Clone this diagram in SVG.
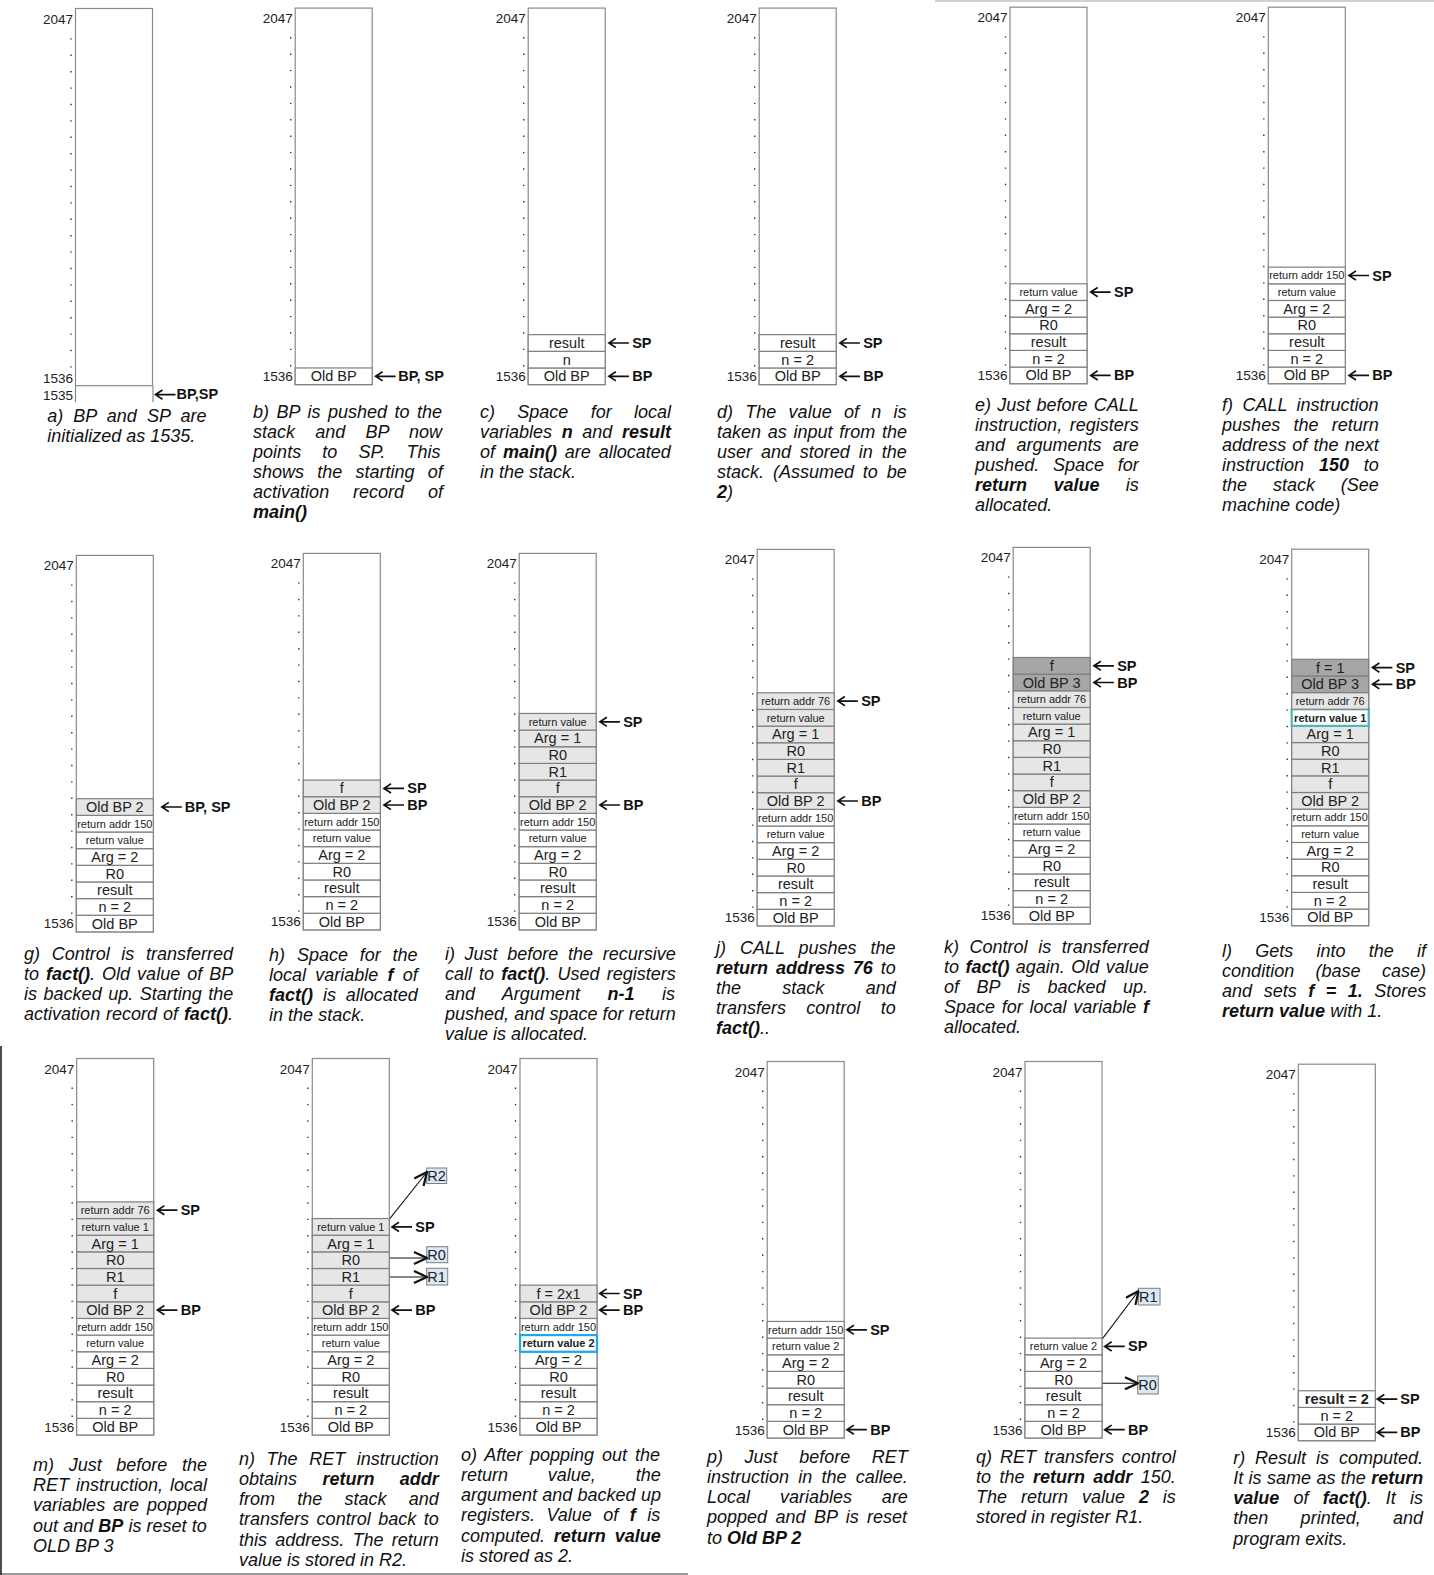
<svg xmlns="http://www.w3.org/2000/svg" xmlns:xlink="http://www.w3.org/1999/xlink" width="1434" height="1575" viewBox="0 0 1434 1575">
<style>
.stk{fill:#fff;stroke:#8a8a8a;stroke-width:1.2}
.c{fill:#fff;stroke:#7f7f7f;stroke-width:1.2}
.g1{fill:#e6e6e6}
.g2{fill:#a6a6a6}
.teal{stroke:#4cb8b8;stroke-width:2.2}
.blue{stroke:#1aaae6;stroke-width:2.2}
text{font-family:"Liberation Sans",Arial,Helvetica,sans-serif}
.v{font-size:14.5px;text-anchor:middle;fill:#222}
.s{font-size:11px;text-anchor:middle;fill:#222}
.b{font-weight:bold}
.num{font-size:13.5px;text-anchor:end;fill:#222}
.pl{font-size:14.5px;font-weight:bold;fill:#111}
.cap{font-size:18px;font-style:italic;fill:#111}
.dots{stroke:#333;stroke-width:1.4;stroke-dasharray:1.4 15}
.pa{fill:none;stroke:#111;stroke-width:1.7}
.rb{fill:#dae7f4;stroke:#7f7f7f;stroke-width:1}
.rt{font-size:14.5px;fill:#222}
.rl{fill:none;stroke:#111;stroke-width:1.1}
</style>
<defs>
<g id="ptr"><path class="pa" d="M1,0 H21 M8,-4.6 L1,0 L8,4.6"/></g>
<marker id="oa" viewBox="0 0 15 14" refX="14" refY="7" markerWidth="15" markerHeight="14" markerUnits="userSpaceOnUse" orient="auto"><path d="M1,1 L14,7 L1,13" fill="none" stroke="#111" stroke-width="2.2"/></marker>
<g id="frame">
<rect class="stk" x="0" y="-376.5" width="77" height="376.5"/>
<line class="dots" x1="-4.5" y1="-347.5" x2="-4.5" y2="-18"/>
<text class="num" x="-2.5" y="-361.5">2047</text>
<text class="num" x="-2.5" y="-3.5">1536</text>
</g>
</defs>

<!-- border lines -->
<line x1="935" y1="1" x2="1434" y2="1" stroke="#d0d0d0" stroke-width="2"/>
<line x1="1" y1="1046" x2="1" y2="1575" stroke="#111" stroke-width="1.5"/>
<line x1="0" y1="1574" x2="688" y2="1574" stroke="#333" stroke-width="1.2"/>

<!-- Panel a -->
<g id="panel-a">
<g transform="translate(75.5,385.7)">
<rect class="stk" x="0" y="-377.2" width="77" height="377.2"/>
<line class="dots" x1="-4.5" y1="-347.5" x2="-4.5" y2="-18"/>
<text class="num" x="-2.5" y="-362">2047</text>
<text class="num" x="-2.5" y="-2.5">1536</text>
<text class="num" x="-2.5" y="14.8">1535</text>
<path d="M0,0 V16.5 M77.5,0 V16.5" stroke="#8a8a8a" stroke-width="1.2" fill="none"/>
<text class="pl" x="101" y="13.5">BP,SP</text>
</g>
<text class="cap" x="47.2" y="421.8" style="word-spacing:5.15px">a) BP and SP are</text>
<text class="cap" x="47.2" y="441.9">initialized as 1535.</text>
</g>

<!-- Panel b -->
<g id="panel-b">
<g transform="translate(295.2,384.6)">
<use href="#frame"/>
<rect class="c" x="0" y="-16.65" width="77" height="16.65"/><text class="v" x="38.5" y="-3.3">Old BP</text>
<text class="pl" x="103" y="-3.3">BP, SP</text>
</g>
<text class="cap" x="253.1" y="417.7" style="word-spacing:2.5px">b) BP is pushed to the</text>
<text class="cap" x="253.1" y="437.8" style="word-spacing:15.2px">stack and BP now</text>
<text class="cap" x="253.1" y="457.9" style="word-spacing:16.2px">points to SP. This</text>
<text class="cap" x="253.1" y="478" style="word-spacing:8.2px">shows the starting of</text>
<text class="cap" x="253.1" y="498.1" style="word-spacing:18.9px">activation record of</text>
<text class="cap b" x="253.1" y="518.2">main()</text>
</g>

<!-- Panel c -->
<g id="panel-c">
<g transform="translate(528.2,384.6)">
<use href="#frame"/>
<rect class="c" x="0" y="-16.65" width="77" height="16.65"/><text class="v" x="38.5" y="-3.3">Old BP</text>
<rect class="c" x="0" y="-33.3" width="77" height="16.65"/><text class="v" x="38.5" y="-19.95">n</text>
<rect class="c" x="0" y="-49.95" width="77" height="16.65"/><text class="v" x="38.5" y="-36.6">result</text>
<text class="pl" x="104" y="-36.6">SP</text>
<text class="pl" x="104" y="-3.3">BP</text>
</g>
<text class="cap" x="480" y="417.7" style="word-spacing:17.3px">c) Space for local</text>
<text class="cap" x="480" y="437.8" style="word-spacing:4.6px">variables <tspan class="b">n</tspan> and <tspan class="b">result</tspan></text>
<text class="cap" x="480" y="457.9" style="word-spacing:2.9px">of <tspan class="b">main()</tspan> are allocated</text>
<text class="cap" x="480" y="478">in the stack.</text>
</g>

<!-- Panel d -->
<g id="panel-d">
<g transform="translate(759.2,384.6)">
<use href="#frame"/>
<rect class="c" x="0" y="-16.65" width="77" height="16.65"/><text class="v" x="38.5" y="-3.3">Old BP</text>
<rect class="c" x="0" y="-33.3" width="77" height="16.65"/><text class="v" x="38.5" y="-19.95">n = 2</text>
<rect class="c" x="0" y="-49.95" width="77" height="16.65"/><text class="v" x="38.5" y="-36.6">result</text>
<text class="pl" x="104" y="-36.6">SP</text>
<text class="pl" x="104" y="-3.3">BP</text>
</g>
<text class="cap" x="717" y="417.7" style="word-spacing:7.3px">d) The value of n is</text>
<text class="cap" x="717" y="437.8" style="word-spacing:1.7px">taken as input from the</text>
<text class="cap" x="717" y="457.9" style="word-spacing:3.9px">user and stored in the</text>
<text class="cap" x="717" y="478" style="word-spacing:3.9px">stack. (Assumed to be</text>
<text class="cap" x="717" y="498.1"><tspan class="b">2</tspan>)</text>
</g>

<!-- Panel e -->
<g id="panel-e">
<g transform="translate(1010,383.7)">
<use href="#frame"/>
<rect class="c" x="0" y="-16.65" width="77" height="16.65"/><text class="v" x="38.5" y="-3.3">Old BP</text>
<rect class="c" x="0" y="-33.3" width="77" height="16.65"/><text class="v" x="38.5" y="-19.95">n = 2</text>
<rect class="c" x="0" y="-49.95" width="77" height="16.65"/><text class="v" x="38.5" y="-36.6">result</text>
<rect class="c" x="0" y="-66.6" width="77" height="16.65"/><text class="v" x="38.5" y="-53.25">R0</text>
<rect class="c" x="0" y="-83.25" width="77" height="16.65"/><text class="v" x="38.5" y="-69.9">Arg = 2</text>
<rect class="c" x="0" y="-99.9" width="77" height="16.65"/><text class="s" x="38.5" y="-87.6">return value</text>
<text class="pl" x="104" y="-86.6">SP</text>
<text class="pl" x="104" y="-3.3">BP</text>
</g>
<text class="cap" x="975.1" y="410.7" style="word-spacing:1.2px">e) Just before CALL</text>
<text class="cap" x="975.1" y="430.8" style="word-spacing:2.7px">instruction, registers</text>
<text class="cap" x="975.1" y="450.9" style="word-spacing:6.3px">and arguments are</text>
<text class="cap" x="975.1" y="471" style="word-spacing:8.8px">pushed. Space for</text>
<text class="cap" x="975.1" y="491.1" style="word-spacing:21.3px"><tspan class="b">return value</tspan> is</text>
<text class="cap" x="975.1" y="511.2">allocated.</text>
</g>

<!-- Panel f -->
<g id="panel-f">
<g transform="translate(1268.3,383.7)">
<use href="#frame"/>
<rect class="c" x="0" y="-16.65" width="77" height="16.65"/><text class="v" x="38.5" y="-3.3">Old BP</text>
<rect class="c" x="0" y="-33.3" width="77" height="16.65"/><text class="v" x="38.5" y="-19.95">n = 2</text>
<rect class="c" x="0" y="-49.95" width="77" height="16.65"/><text class="v" x="38.5" y="-36.6">result</text>
<rect class="c" x="0" y="-66.6" width="77" height="16.65"/><text class="v" x="38.5" y="-53.25">R0</text>
<rect class="c" x="0" y="-83.25" width="77" height="16.65"/><text class="v" x="38.5" y="-69.9">Arg = 2</text>
<rect class="c" x="0" y="-99.9" width="77" height="16.65"/><text class="s" x="38.5" y="-87.6">return value</text>
<rect class="c" x="0" y="-116.55" width="77" height="16.65"/><text class="s" x="38.5" y="-104.25">return addr 150</text>
<text class="pl" x="104" y="-103.2">SP</text>
<text class="pl" x="104" y="-3.3">BP</text>
</g>
<text class="cap" x="1222.1" y="410.7" style="word-spacing:4.3px">f) CALL instruction</text>
<text class="cap" x="1222.1" y="430.8" style="word-spacing:8.3px">pushes the return</text>
<text class="cap" x="1222.1" y="450.9" style="word-spacing:1.2px">address of the next</text>
<text class="cap" x="1222.1" y="471" style="word-spacing:9.8px">instruction <tspan class="b">150</tspan> to</text>
<text class="cap" x="1222.1" y="491.1" style="word-spacing:20.8px">the stack (See</text>
<text class="cap" x="1222.1" y="511.2">machine code)</text>
</g>

<!-- Panel g -->
<g id="panel-g">
<g transform="translate(76.3,931.9)">
<use href="#frame"/>
<rect class="c" x="0" y="-16.65" width="77" height="16.65"/><text class="v" x="38.5" y="-3.3">Old BP</text>
<rect class="c" x="0" y="-33.3" width="77" height="16.65"/><text class="v" x="38.5" y="-19.95">n = 2</text>
<rect class="c" x="0" y="-49.95" width="77" height="16.65"/><text class="v" x="38.5" y="-36.6">result</text>
<rect class="c" x="0" y="-66.6" width="77" height="16.65"/><text class="v" x="38.5" y="-53.25">R0</text>
<rect class="c" x="0" y="-83.25" width="77" height="16.65"/><text class="v" x="38.5" y="-69.9">Arg = 2</text>
<rect class="c" x="0" y="-99.9" width="77" height="16.65"/><text class="s" x="38.5" y="-87.6">return value</text>
<rect class="c" x="0" y="-116.55" width="77" height="16.65"/><text class="s" x="38.5" y="-104.25">return addr 150</text>
<rect class="c g1" x="0" y="-133.2" width="77" height="16.65"/><text class="v" x="38.5" y="-119.85">Old BP 2</text>
<text class="pl" x="108.5" y="-119.9">BP, SP</text>
</g>
<text class="cap" x="24.1" y="960" style="word-spacing:6.6px">g) Control is transferred</text>
<text class="cap" x="24.1" y="980.1" style="word-spacing:2px">to <tspan class="b">fact()</tspan>. Old value of BP</text>
<text class="cap" x="24.1" y="1000.2" style="word-spacing:1.5px">is backed up. Starting the</text>
<text class="cap" x="24.1" y="1020.3" style="word-spacing:0.9px">activation record of <tspan class="b">fact()</tspan>.</text>
</g>

<!-- Panel h -->
<g id="panel-h">
<g transform="translate(303.3,929.9)">
<use href="#frame"/>
<rect class="c" x="0" y="-16.65" width="77" height="16.65"/><text class="v" x="38.5" y="-3.3">Old BP</text>
<rect class="c" x="0" y="-33.3" width="77" height="16.65"/><text class="v" x="38.5" y="-19.95">n = 2</text>
<rect class="c" x="0" y="-49.95" width="77" height="16.65"/><text class="v" x="38.5" y="-36.6">result</text>
<rect class="c" x="0" y="-66.6" width="77" height="16.65"/><text class="v" x="38.5" y="-53.25">R0</text>
<rect class="c" x="0" y="-83.25" width="77" height="16.65"/><text class="v" x="38.5" y="-69.9">Arg = 2</text>
<rect class="c" x="0" y="-99.9" width="77" height="16.65"/><text class="s" x="38.5" y="-87.6">return value</text>
<rect class="c" x="0" y="-116.55" width="77" height="16.65"/><text class="s" x="38.5" y="-104.25">return addr 150</text>
<rect class="c g1" x="0" y="-133.2" width="77" height="16.65"/><text class="v" x="38.5" y="-119.85">Old BP 2</text>
<rect class="c g1" x="0" y="-149.85" width="77" height="16.65"/><text class="v" x="38.5" y="-136.5">f</text>
<text class="pl" x="104" y="-136.5">SP</text>
<text class="pl" x="104" y="-119.9">BP</text>
</g>
<text class="cap" x="269.1" y="961" style="word-spacing:6.8px">h) Space for the</text>
<text class="cap" x="269.1" y="981.1" style="word-spacing:4.2px">local variable <tspan class="b">f</tspan> of</text>
<text class="cap" x="269.1" y="1001.2" style="word-spacing:4.8px"><tspan class="b">fact()</tspan> is allocated</text>
<text class="cap" x="269.1" y="1021.3">in the stack.</text>
</g>

<!-- Panel i -->
<g id="panel-i">
<g transform="translate(519.2,929.9)">
<use href="#frame"/>
<rect class="c" x="0" y="-16.65" width="77" height="16.65"/><text class="v" x="38.5" y="-3.3">Old BP</text>
<rect class="c" x="0" y="-33.3" width="77" height="16.65"/><text class="v" x="38.5" y="-19.95">n = 2</text>
<rect class="c" x="0" y="-49.95" width="77" height="16.65"/><text class="v" x="38.5" y="-36.6">result</text>
<rect class="c" x="0" y="-66.6" width="77" height="16.65"/><text class="v" x="38.5" y="-53.25">R0</text>
<rect class="c" x="0" y="-83.25" width="77" height="16.65"/><text class="v" x="38.5" y="-69.9">Arg = 2</text>
<rect class="c" x="0" y="-99.9" width="77" height="16.65"/><text class="s" x="38.5" y="-87.6">return value</text>
<rect class="c" x="0" y="-116.55" width="77" height="16.65"/><text class="s" x="38.5" y="-104.25">return addr 150</text>
<rect class="c g1" x="0" y="-133.2" width="77" height="16.65"/><text class="v" x="38.5" y="-119.85">Old BP 2</text>
<rect class="c g1" x="0" y="-149.85" width="77" height="16.65"/><text class="v" x="38.5" y="-136.5">f</text>
<rect class="c g1" x="0" y="-166.5" width="77" height="16.65"/><text class="v" x="38.5" y="-153.15">R1</text>
<rect class="c g1" x="0" y="-183.15" width="77" height="16.65"/><text class="v" x="38.5" y="-169.8">R0</text>
<rect class="c g1" x="0" y="-199.8" width="77" height="16.65"/><text class="v" x="38.5" y="-186.45">Arg = 1</text>
<rect class="c g1" x="0" y="-216.45" width="77" height="16.65"/><text class="s" x="38.5" y="-204.15">return value</text>
<text class="pl" x="104" y="-203.1">SP</text>
<text class="pl" x="104" y="-119.9">BP</text>
</g>
<text class="cap" x="444.9" y="960" style="word-spacing:4.7px">i) Just before the recursive</text>
<text class="cap" x="444.9" y="980.1" style="word-spacing:2.2px">call to <tspan class="b">fact()</tspan>. Used registers</text>
<text class="cap" x="444.9" y="1000.2" style="word-spacing:22.6px">and Argument <tspan class="b">n-1</tspan> is</text>
<text class="cap" x="444.9" y="1020.3" style="word-spacing:0.2px">pushed, and space for return</text>
<text class="cap" x="444.9" y="1040.4">value is allocated.</text>
</g>

<!-- Panel j -->
<g id="panel-j">
<g transform="translate(757.2,925.9)">
<use href="#frame"/>
<rect class="c" x="0" y="-16.65" width="77" height="16.65"/><text class="v" x="38.5" y="-3.3">Old BP</text>
<rect class="c" x="0" y="-33.3" width="77" height="16.65"/><text class="v" x="38.5" y="-19.95">n = 2</text>
<rect class="c" x="0" y="-49.95" width="77" height="16.65"/><text class="v" x="38.5" y="-36.6">result</text>
<rect class="c" x="0" y="-66.6" width="77" height="16.65"/><text class="v" x="38.5" y="-53.25">R0</text>
<rect class="c" x="0" y="-83.25" width="77" height="16.65"/><text class="v" x="38.5" y="-69.9">Arg = 2</text>
<rect class="c" x="0" y="-99.9" width="77" height="16.65"/><text class="s" x="38.5" y="-87.6">return value</text>
<rect class="c" x="0" y="-116.55" width="77" height="16.65"/><text class="s" x="38.5" y="-104.25">return addr 150</text>
<rect class="c g1" x="0" y="-133.2" width="77" height="16.65"/><text class="v" x="38.5" y="-119.85">Old BP 2</text>
<rect class="c g1" x="0" y="-149.85" width="77" height="16.65"/><text class="v" x="38.5" y="-136.5">f</text>
<rect class="c g1" x="0" y="-166.5" width="77" height="16.65"/><text class="v" x="38.5" y="-153.15">R1</text>
<rect class="c g1" x="0" y="-183.15" width="77" height="16.65"/><text class="v" x="38.5" y="-169.8">R0</text>
<rect class="c g1" x="0" y="-199.8" width="77" height="16.65"/><text class="v" x="38.5" y="-186.45">Arg = 1</text>
<rect class="c g1" x="0" y="-216.45" width="77" height="16.65"/><text class="s" x="38.5" y="-204.15">return value</text>
<rect class="c g1" x="0" y="-233.1" width="77" height="16.65"/><text class="s" x="38.5" y="-220.8">return addr 76</text>
<text class="pl" x="104" y="-219.8">SP</text>
<text class="pl" x="104" y="-119.9">BP</text>
</g>
<text class="cap" x="716" y="954" style="word-spacing:8.9px">j) CALL pushes the</text>
<text class="cap" x="716" y="974.1" style="word-spacing:2.9px"><tspan class="b">return address 76</tspan> to</text>
<text class="cap" x="716" y="994.2" style="word-spacing:36.3px">the stack and</text>
<text class="cap" x="716" y="1014.3" style="word-spacing:15.3px">transfers control to</text>
<text class="cap" x="716" y="1034.4"><tspan class="b">fact()</tspan>..</text>
</g>

<!-- Panel k -->
<g id="panel-k">
<g transform="translate(1013.2,923.9)">
<use href="#frame"/>
<rect class="c" x="0" y="-16.65" width="77" height="16.65"/><text class="v" x="38.5" y="-3.3">Old BP</text>
<rect class="c" x="0" y="-33.3" width="77" height="16.65"/><text class="v" x="38.5" y="-19.95">n = 2</text>
<rect class="c" x="0" y="-49.95" width="77" height="16.65"/><text class="v" x="38.5" y="-36.6">result</text>
<rect class="c" x="0" y="-66.6" width="77" height="16.65"/><text class="v" x="38.5" y="-53.25">R0</text>
<rect class="c" x="0" y="-83.25" width="77" height="16.65"/><text class="v" x="38.5" y="-69.9">Arg = 2</text>
<rect class="c" x="0" y="-99.9" width="77" height="16.65"/><text class="s" x="38.5" y="-87.6">return value</text>
<rect class="c" x="0" y="-116.55" width="77" height="16.65"/><text class="s" x="38.5" y="-104.25">return addr 150</text>
<rect class="c g1" x="0" y="-133.2" width="77" height="16.65"/><text class="v" x="38.5" y="-119.85">Old BP 2</text>
<rect class="c g1" x="0" y="-149.85" width="77" height="16.65"/><text class="v" x="38.5" y="-136.5">f</text>
<rect class="c g1" x="0" y="-166.5" width="77" height="16.65"/><text class="v" x="38.5" y="-153.15">R1</text>
<rect class="c g1" x="0" y="-183.15" width="77" height="16.65"/><text class="v" x="38.5" y="-169.8">R0</text>
<rect class="c g1" x="0" y="-199.8" width="77" height="16.65"/><text class="v" x="38.5" y="-186.45">Arg = 1</text>
<rect class="c g1" x="0" y="-216.45" width="77" height="16.65"/><text class="s" x="38.5" y="-204.15">return value</text>
<rect class="c g1" x="0" y="-233.1" width="77" height="16.65"/><text class="s" x="38.5" y="-220.8">return addr 76</text>
<rect class="c g2" x="0" y="-249.75" width="77" height="16.65"/><text class="v" x="38.5" y="-236.4">Old BP 3</text>
<rect class="c g2" x="0" y="-266.4" width="77" height="16.65"/><text class="v" x="38.5" y="-253.05">f</text>
<text class="pl" x="104" y="-253.1">SP</text>
<text class="pl" x="104" y="-236.4">BP</text>
</g>
<text class="cap" x="944" y="953" style="word-spacing:5.6px">k) Control is transferred</text>
<text class="cap" x="944" y="973.1" style="word-spacing:1.4px">to <tspan class="b">fact()</tspan> again. Old value</text>
<text class="cap" x="944" y="993.2" style="word-spacing:12.4px">of BP is backed up.</text>
<text class="cap" x="944" y="1013.3" style="word-spacing:1.7px">Space for local variable <tspan class="b">f</tspan></text>
<text class="cap" x="944" y="1033.4">allocated.</text>
</g>

<!-- Panel l -->
<g id="panel-l">
<g transform="translate(1291.7,925.7)">
<use href="#frame"/>
<rect class="c" x="0" y="-16.65" width="77" height="16.65"/><text class="v" x="38.5" y="-3.3">Old BP</text>
<rect class="c" x="0" y="-33.3" width="77" height="16.65"/><text class="v" x="38.5" y="-19.95">n = 2</text>
<rect class="c" x="0" y="-49.95" width="77" height="16.65"/><text class="v" x="38.5" y="-36.6">result</text>
<rect class="c" x="0" y="-66.6" width="77" height="16.65"/><text class="v" x="38.5" y="-53.25">R0</text>
<rect class="c" x="0" y="-83.25" width="77" height="16.65"/><text class="v" x="38.5" y="-69.9">Arg = 2</text>
<rect class="c" x="0" y="-99.9" width="77" height="16.65"/><text class="s" x="38.5" y="-87.6">return value</text>
<rect class="c" x="0" y="-116.55" width="77" height="16.65"/><text class="s" x="38.5" y="-104.25">return addr 150</text>
<rect class="c g1" x="0" y="-133.2" width="77" height="16.65"/><text class="v" x="38.5" y="-119.85">Old BP 2</text>
<rect class="c g1" x="0" y="-149.85" width="77" height="16.65"/><text class="v" x="38.5" y="-136.5">f</text>
<rect class="c g1" x="0" y="-166.5" width="77" height="16.65"/><text class="v" x="38.5" y="-153.15">R1</text>
<rect class="c g1" x="0" y="-183.15" width="77" height="16.65"/><text class="v" x="38.5" y="-169.8">R0</text>
<rect class="c g1" x="0" y="-199.8" width="77" height="16.65"/><text class="v" x="38.5" y="-186.45">Arg = 1</text>
<rect class="c teal" x="0" y="-216.45" width="77" height="16.65" fill="#fff"/><text class="s b" x="38.5" y="-204.15">return value  1</text>
<rect class="c g1" x="0" y="-233.1" width="77" height="16.65"/><text class="s" x="38.5" y="-220.8">return addr 76</text>
<rect class="c g2" x="0" y="-249.75" width="77" height="16.65"/><text class="v" x="38.5" y="-236.4">Old BP 3</text>
<rect class="c g2" x="0" y="-266.4" width="77" height="16.65"/><text class="v" x="38.5" y="-253.05">f = 1</text>
<text class="pl" x="104" y="-253.1">SP</text>
<text class="pl" x="104" y="-236.4">BP</text>
</g>
<text class="cap" x="1222.1" y="957" style="word-spacing:18.2px">l) Gets into the if</text>
<text class="cap" x="1222.1" y="977.1" style="word-spacing:16.4px">condition (base case)</text>
<text class="cap" x="1222.1" y="997.2" style="word-spacing:6.5px">and sets <tspan class="b">f = 1.</tspan> Stores</text>
<text class="cap" x="1222.1" y="1017.3"><tspan class="b">return value</tspan> with 1.</text>
</g>

<!-- Panel m -->
<g id="panel-m">
<g transform="translate(76.7,1435)">
<use href="#frame"/>
<rect class="c" x="0" y="-16.65" width="77" height="16.65"/><text class="v" x="38.5" y="-3.3">Old BP</text>
<rect class="c" x="0" y="-33.3" width="77" height="16.65"/><text class="v" x="38.5" y="-19.95">n = 2</text>
<rect class="c" x="0" y="-49.95" width="77" height="16.65"/><text class="v" x="38.5" y="-36.6">result</text>
<rect class="c" x="0" y="-66.6" width="77" height="16.65"/><text class="v" x="38.5" y="-53.25">R0</text>
<rect class="c" x="0" y="-83.25" width="77" height="16.65"/><text class="v" x="38.5" y="-69.9">Arg = 2</text>
<rect class="c" x="0" y="-99.9" width="77" height="16.65"/><text class="s" x="38.5" y="-87.6">return value</text>
<rect class="c" x="0" y="-116.55" width="77" height="16.65"/><text class="s" x="38.5" y="-104.25">return addr 150</text>
<rect class="c g1" x="0" y="-133.2" width="77" height="16.65"/><text class="v" x="38.5" y="-119.85">Old BP 2</text>
<rect class="c g1" x="0" y="-149.85" width="77" height="16.65"/><text class="v" x="38.5" y="-136.5">f</text>
<rect class="c g1" x="0" y="-166.5" width="77" height="16.65"/><text class="v" x="38.5" y="-153.15">R1</text>
<rect class="c g1" x="0" y="-183.15" width="77" height="16.65"/><text class="v" x="38.5" y="-169.8">R0</text>
<rect class="c g1" x="0" y="-199.8" width="77" height="16.65"/><text class="v" x="38.5" y="-186.45">Arg = 1</text>
<rect class="c g1" x="0" y="-216.45" width="77" height="16.65"/><text class="s" x="38.5" y="-204.15">return value 1</text>
<rect class="c g1" x="0" y="-233.1" width="77" height="16.65"/><text class="s" x="38.5" y="-220.8">return addr 76</text>
<text class="pl" x="104" y="-219.8">SP</text>
<text class="pl" x="104" y="-119.9">BP</text>
</g>
<text class="cap" x="33.1" y="1471.2" style="word-spacing:9.6px">m) Just before the</text>
<text class="cap" x="33.1" y="1491.3" style="word-spacing:1.9px">RET instruction, local</text>
<text class="cap" x="33.1" y="1511.4" style="word-spacing:2.9px">variables are popped</text>
<text class="cap" x="33.1" y="1531.5" style="word-spacing:0.1px">out and <tspan class="b">BP</tspan> is reset to</text>
<text class="cap" x="33.1" y="1551.6">OLD BP 3</text>
</g>

<!-- Panel n -->
<g id="panel-n">
<g transform="translate(312.3,1435)">
<use href="#frame"/>
<rect class="c" x="0" y="-16.65" width="77" height="16.65"/><text class="v" x="38.5" y="-3.3">Old BP</text>
<rect class="c" x="0" y="-33.3" width="77" height="16.65"/><text class="v" x="38.5" y="-19.95">n = 2</text>
<rect class="c" x="0" y="-49.95" width="77" height="16.65"/><text class="v" x="38.5" y="-36.6">result</text>
<rect class="c" x="0" y="-66.6" width="77" height="16.65"/><text class="v" x="38.5" y="-53.25">R0</text>
<rect class="c" x="0" y="-83.25" width="77" height="16.65"/><text class="v" x="38.5" y="-69.9">Arg = 2</text>
<rect class="c" x="0" y="-99.9" width="77" height="16.65"/><text class="s" x="38.5" y="-87.6">return value</text>
<rect class="c" x="0" y="-116.55" width="77" height="16.65"/><text class="s" x="38.5" y="-104.25">return addr 150</text>
<rect class="c g1" x="0" y="-133.2" width="77" height="16.65"/><text class="v" x="38.5" y="-119.85">Old BP 2</text>
<rect class="c g1" x="0" y="-149.85" width="77" height="16.65"/><text class="v" x="38.5" y="-136.5">f</text>
<rect class="c g1" x="0" y="-166.5" width="77" height="16.65"/><text class="v" x="38.5" y="-153.15">R1</text>
<rect class="c g1" x="0" y="-183.15" width="77" height="16.65"/><text class="v" x="38.5" y="-169.8">R0</text>
<rect class="c g1" x="0" y="-199.8" width="77" height="16.65"/><text class="v" x="38.5" y="-186.45">Arg = 1</text>
<rect class="c g1" x="0" y="-216.45" width="77" height="16.65"/><text class="s" x="38.5" y="-204.15">return value 1</text>
<text class="pl" x="103" y="-203.1">SP</text>
<text class="pl" x="103" y="-119.9">BP</text>
</g>
<g id="reg-n-R2"><rect class="rb" x="426.7" y="1168" width="20" height="15.5"/><text class="rt" x="427.2" y="1181">R2</text></g>
<g id="reg-n-R0"><rect class="rb" x="426.7" y="1246.7" width="21" height="16"/><text class="rt" x="427.2" y="1260">R0</text></g>
<g id="reg-n-R1"><rect class="rb" x="426.7" y="1268.3" width="21" height="16.7"/><text class="rt" x="427.2" y="1282">R1</text></g>
<text class="cap" x="239" y="1465.1" style="word-spacing:6.6px">n) The RET instruction</text>
<text class="cap" x="239" y="1485.2" style="word-spacing:20.4px">obtains <tspan class="b">return addr</tspan></text>
<text class="cap" x="239" y="1505.3" style="word-spacing:17.2px">from the stack and</text>
<text class="cap" x="239" y="1525.4" style="word-spacing:2.6px">transfers control back to</text>
<text class="cap" x="239" y="1545.5" style="word-spacing:3.2px">this address. The return</text>
<text class="cap" x="239" y="1565.6">value is stored in R2.</text>
</g>

<!-- Panel o -->
<g id="panel-o">
<g transform="translate(520,1435)">
<use href="#frame"/>
<rect class="c" x="0" y="-16.65" width="77" height="16.65"/><text class="v" x="38.5" y="-3.3">Old BP</text>
<rect class="c" x="0" y="-33.3" width="77" height="16.65"/><text class="v" x="38.5" y="-19.95">n = 2</text>
<rect class="c" x="0" y="-49.95" width="77" height="16.65"/><text class="v" x="38.5" y="-36.6">result</text>
<rect class="c" x="0" y="-66.6" width="77" height="16.65"/><text class="v" x="38.5" y="-53.25">R0</text>
<rect class="c" x="0" y="-83.25" width="77" height="16.65"/><text class="v" x="38.5" y="-69.9">Arg = 2</text>
<rect class="c" x="0" y="-116.55" width="77" height="16.65"/><text class="s" x="38.5" y="-104.25">return addr 150</text>
<rect class="c blue" x="0" y="-99.9" width="77" height="16.65"/><text class="s b" x="38.5" y="-87.6">return value 2</text>
<rect class="c g1" x="0" y="-133.2" width="77" height="16.65"/><text class="v" x="38.5" y="-119.85">Old BP 2</text>
<rect class="c g1" x="0" y="-149.85" width="77" height="16.65"/><text class="v" x="38.5" y="-136.5">f = 2x1</text>
<text class="pl" x="103" y="-136.5">SP</text>
<text class="pl" x="103" y="-119.9">BP</text>
</g>
<text class="cap" x="460.9" y="1461.1" style="word-spacing:2.9px">o) After popping out the</text>
<text class="cap" x="460.9" y="1481.2" style="word-spacing:34.9px">return value, the</text>
<text class="cap" x="460.9" y="1501.3" style="word-spacing:0.3px">argument and backed up</text>
<text class="cap" x="460.9" y="1521.4" style="word-spacing:6.5px">registers. Value of <tspan class="b">f</tspan> is</text>
<text class="cap" x="460.9" y="1541.5" style="word-spacing:3.9px">computed. <tspan class="b">return value</tspan></text>
<text class="cap" x="460.9" y="1561.6">is stored as 2.</text>
</g>

<!-- Panel p -->
<g id="panel-p">
<g transform="translate(767.2,1438)">
<use href="#frame"/>
<rect class="c" x="0" y="-16.65" width="77" height="16.65"/><text class="v" x="38.5" y="-3.3">Old BP</text>
<rect class="c" x="0" y="-33.3" width="77" height="16.65"/><text class="v" x="38.5" y="-19.95">n = 2</text>
<rect class="c" x="0" y="-49.95" width="77" height="16.65"/><text class="v" x="38.5" y="-36.6">result</text>
<rect class="c" x="0" y="-66.6" width="77" height="16.65"/><text class="v" x="38.5" y="-53.25">R0</text>
<rect class="c" x="0" y="-83.25" width="77" height="16.65"/><text class="v" x="38.5" y="-69.9">Arg = 2</text>
<rect class="c" x="0" y="-99.9" width="77" height="16.65"/><text class="s" x="38.5" y="-87.6">return value 2</text>
<rect class="c" x="0" y="-116.55" width="77" height="16.65"/><text class="s" x="38.5" y="-104.25">return addr 150</text>
<text class="pl" x="103" y="-103.2">SP</text>
<text class="pl" x="103" y="-3.3">BP</text>
</g>
<text class="cap" x="707" y="1463.1" style="word-spacing:16.6px">p) Just before RET</text>
<text class="cap" x="707" y="1483.2" style="word-spacing:4.2px">instruction in the callee.</text>
<text class="cap" x="707" y="1503.3" style="word-spacing:24.9px">Local variables are</text>
<text class="cap" x="707" y="1523.4" style="word-spacing:3.4px">popped and BP is reset</text>
<text class="cap" x="707" y="1543.5">to <tspan class="b">Old BP 2</tspan></text>
</g>

<!-- Panel q -->
<g id="panel-q">
<g transform="translate(1025,1438)">
<use href="#frame"/>
<rect class="c" x="0" y="-16.65" width="77" height="16.65"/><text class="v" x="38.5" y="-3.3">Old BP</text>
<rect class="c" x="0" y="-33.3" width="77" height="16.65"/><text class="v" x="38.5" y="-19.95">n = 2</text>
<rect class="c" x="0" y="-49.95" width="77" height="16.65"/><text class="v" x="38.5" y="-36.6">result</text>
<rect class="c" x="0" y="-66.6" width="77" height="16.65"/><text class="v" x="38.5" y="-53.25">R0</text>
<rect class="c" x="0" y="-83.25" width="77" height="16.65"/><text class="v" x="38.5" y="-69.9">Arg = 2</text>
<rect class="c" x="0" y="-99.9" width="77" height="16.65"/><text class="s" x="38.5" y="-87.6">return value 2</text>
<text class="pl" x="103" y="-86.6">SP</text>
<text class="pl" x="103" y="-3.3">BP</text>
</g>
<g id="reg-q-R1"><rect class="rb" x="1138.3" y="1288.3" width="21.7" height="16.7"/><text class="rt" x="1139" y="1302">R1</text></g>
<g id="reg-q-R0"><rect class="rb" x="1137.7" y="1376" width="20.6" height="18"/><text class="rt" x="1138.2" y="1390">R0</text></g>
<text class="cap" x="976.1" y="1463.1" style="word-spacing:2.9px">q) RET transfers control</text>
<text class="cap" x="976.1" y="1483.2" style="word-spacing:3.4px">to the <tspan class="b">return addr</tspan> 150.</text>
<text class="cap" x="976.1" y="1503.3" style="word-spacing:8.9px">The return value <tspan class="b">2</tspan> is</text>
<text class="cap" x="976.1" y="1523.4">stored in register R1.</text>
</g>

<!-- Panel r -->
<g id="panel-r">
<g transform="translate(1298.3,1440.7)">
<use href="#frame"/>
<rect class="c" x="0" y="-16.65" width="77" height="16.65"/><text class="v" x="38.5" y="-3.3">Old BP</text>
<rect class="c" x="0" y="-33.3" width="77" height="16.65"/><text class="v" x="38.5" y="-19.95">n = 2</text>
<rect class="c" x="0" y="-49.95" width="77" height="16.65"/><text class="v b" x="38.5" y="-36.6">result = 2</text>
<text class="pl" x="102" y="-36.6">SP</text>
<text class="pl" x="102" y="-3.3">BP</text>
</g>
<text class="cap" x="1233.2" y="1464.1" style="word-spacing:4.9px">r) Result is computed.</text>
<text class="cap" x="1233.2" y="1484.2" style="word-spacing:0.4px">It is same as the <tspan class="b">return</tspan></text>
<text class="cap" x="1233.2" y="1504.3" style="word-spacing:9.2px"><tspan class="b">value</tspan> of <tspan class="b">fact()</tspan>. It is</text>
<text class="cap" x="1233.2" y="1524.4" style="word-spacing:27.4px">then printed, and</text>
<text class="cap" x="1233.2" y="1544.5">program exits.</text>
</g>

<!-- Connectors -->
<g id="connectors">
<use href="#ptr" x="154.5" y="394.6"/>
<use href="#ptr" x="374.6" y="376.3"/>
<use href="#ptr" x="607.9" y="343"/><use href="#ptr" x="607.9" y="376.3"/>
<use href="#ptr" x="838.9" y="343"/><use href="#ptr" x="838.9" y="376.3"/>
<use href="#ptr" x="1089.7" y="292.1"/><use href="#ptr" x="1089.7" y="375.4"/>
<use href="#ptr" x="1348" y="275.5"/><use href="#ptr" x="1348" y="375.4"/>
<use href="#ptr" x="160.8" y="807"/>
<use href="#ptr" x="383" y="788.4"/><use href="#ptr" x="383" y="805"/>
<use href="#ptr" x="598.9" y="721.8"/><use href="#ptr" x="598.9" y="805"/>
<use href="#ptr" x="836.9" y="701.1"/><use href="#ptr" x="836.9" y="801"/>
<use href="#ptr" x="1092.9" y="665.8"/><use href="#ptr" x="1092.9" y="682.5"/>
<use href="#ptr" x="1371.4" y="667.6"/><use href="#ptr" x="1371.4" y="684.3"/>
<use href="#ptr" x="156.4" y="1210.2"/><use href="#ptr" x="156.4" y="1310.1"/>
<use href="#ptr" x="391" y="1226.9"/><use href="#ptr" x="391" y="1310.1"/>
<use href="#ptr" x="598.7" y="1293.5"/><use href="#ptr" x="598.7" y="1310.1"/>
<use href="#ptr" x="845.9" y="1329.8"/><use href="#ptr" x="845.9" y="1429.7"/>
<use href="#ptr" x="1103.7" y="1346.4"/><use href="#ptr" x="1103.7" y="1429.7"/>
<use href="#ptr" x="1376.3" y="1399.1"/><use href="#ptr" x="1376.3" y="1432.4"/>
<line class="rl" x1="390" y1="1218.3" x2="427" y2="1172" marker-end="url(#oa)"/>
<line class="rl" x1="390" y1="1258" x2="427" y2="1258" marker-end="url(#oa)"/>
<line class="rl" x1="390" y1="1277" x2="427" y2="1277" marker-end="url(#oa)"/>
<line class="rl" x1="1102.7" y1="1338.3" x2="1138.5" y2="1291" marker-end="url(#oa)"/>
<line class="rl" x1="1102.7" y1="1383.3" x2="1138" y2="1383.3" marker-end="url(#oa)"/>
</g>
</svg>
